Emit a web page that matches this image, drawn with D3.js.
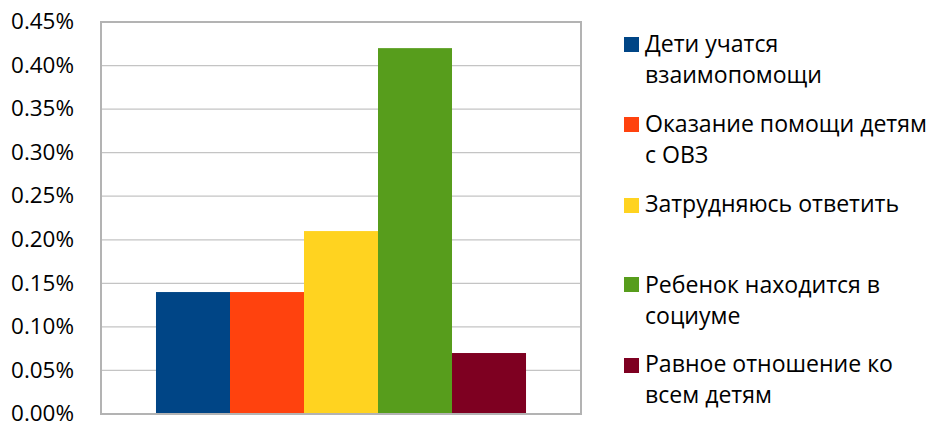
<!DOCTYPE html>
<html><head><meta charset="utf-8">
<script src="https://cdn.jsdelivr.net/npm/d3@7"></script>
<style>body{margin:0;background:#fff;} svg{display:block;font-family:"Open Sans","Noto Sans",sans-serif;}</style>
</head><body>
<svg id="c" width="935" height="425"></svg>
<script>
const categories = [""];
const seriesNames = ["Дети учатся взаимопомощи","Оказание помощи детям с ОВЗ","Затрудняюсь ответить","Ребенок находится в социуме","Равное отношение ко всем детям"];
const seriesValues = [0.14, 0.14, 0.21, 0.42, 0.07];
const seriesColors = ["#004586","#ff420e","#ffd320","#579d1c","#7e0021"];
const legendLines = [["Дети учатся","взаимопомощи"],["Оказание помощи детям","с ОВЗ"],["Затрудняюсь ответить"],["Ребенок находится в","социуме"],["Равное отношение ко","всем детям"]];
const yTicks = [0,0.05,0.10,0.15,0.20,0.25,0.30,0.35,0.40,0.45];

const svg = d3.select("#c");
const L=101, R=581, T=22, B=414;
const y = d3.scaleLinear().domain([0,0.45]).range([B,T]);
const x0 = d3.scaleBand().domain(categories).range([L,R]).paddingInner(0).paddingOuter(0.1486);
const x1 = d3.scaleBand().domain(seriesNames).range([0,x0.bandwidth()]).padding(0);

// gridlines
svg.append("g").selectAll("line").data(yTicks.slice(1,-1)).join("line")
  .attr("x1",L).attr("x2",R).attr("y1",d=>y(d)).attr("y2",d=>y(d))
  .attr("stroke","#c4c4c4").attr("stroke-width",1.3);

// bars
const g = svg.append("g").attr("transform",`translate(${x0("")},0)`);
g.selectAll("rect").data(seriesNames).join("rect")
  .attr("x",d=>x1(d)).attr("width",x1.bandwidth())
  .attr("y",(d,i)=>y(seriesValues[i])).attr("height",(d,i)=>B-y(seriesValues[i]))
  .attr("fill",(d,i)=>seriesColors[i]);

// frame
svg.append("rect").attr("x",L).attr("y",T).attr("width",R-L).attr("height",B-T)
  .attr("fill","none").attr("stroke","#b3b3b3").attr("stroke-width",2);

// y axis labels
const fs = 19.5;
const yAxis = d3.axisLeft(y).tickValues(yTicks).tickFormat(d=>d.toFixed(2)+"%").tickSize(0).tickPadding(27);
const ya = svg.append("g").attr("transform",`translate(${L},0)`).call(yAxis);
ya.select(".domain").remove();
ya.selectAll("text").attr("font-size",fs).attr("fill","#000").attr("font-family","'Open Sans','Noto Sans',sans-serif");
const tw = ya.select("text").node().getComputedTextLength();
ya.selectAll("text").attr("font-size",fs*63/tw).attr("dy","0.3em");

// legend
const leg = svg.append("g");
const sqY = [37,117,198,277,358];
const base1 = [52,132,212,293,372];
const lh = 31;
legendLines.forEach((lines,i)=>{
  leg.append("rect").attr("x",624).attr("y",sqY[i]).attr("width",15).attr("height",15).attr("fill",seriesColors[i]);
  lines.forEach((t,j)=>{
    leg.append("text").attr("x",645).attr("y",base1[i]+j*lh).attr("font-size",fs).attr("fill","#000").text(t);
  });
});
const probe = leg.selectAll("text").filter(function(){return this.textContent==="Оказание помощи детям";}).node();
const w = probe.getComputedTextLength();
leg.selectAll("text").attr("font-size",fs*282/w);
</script>
</body></html>
